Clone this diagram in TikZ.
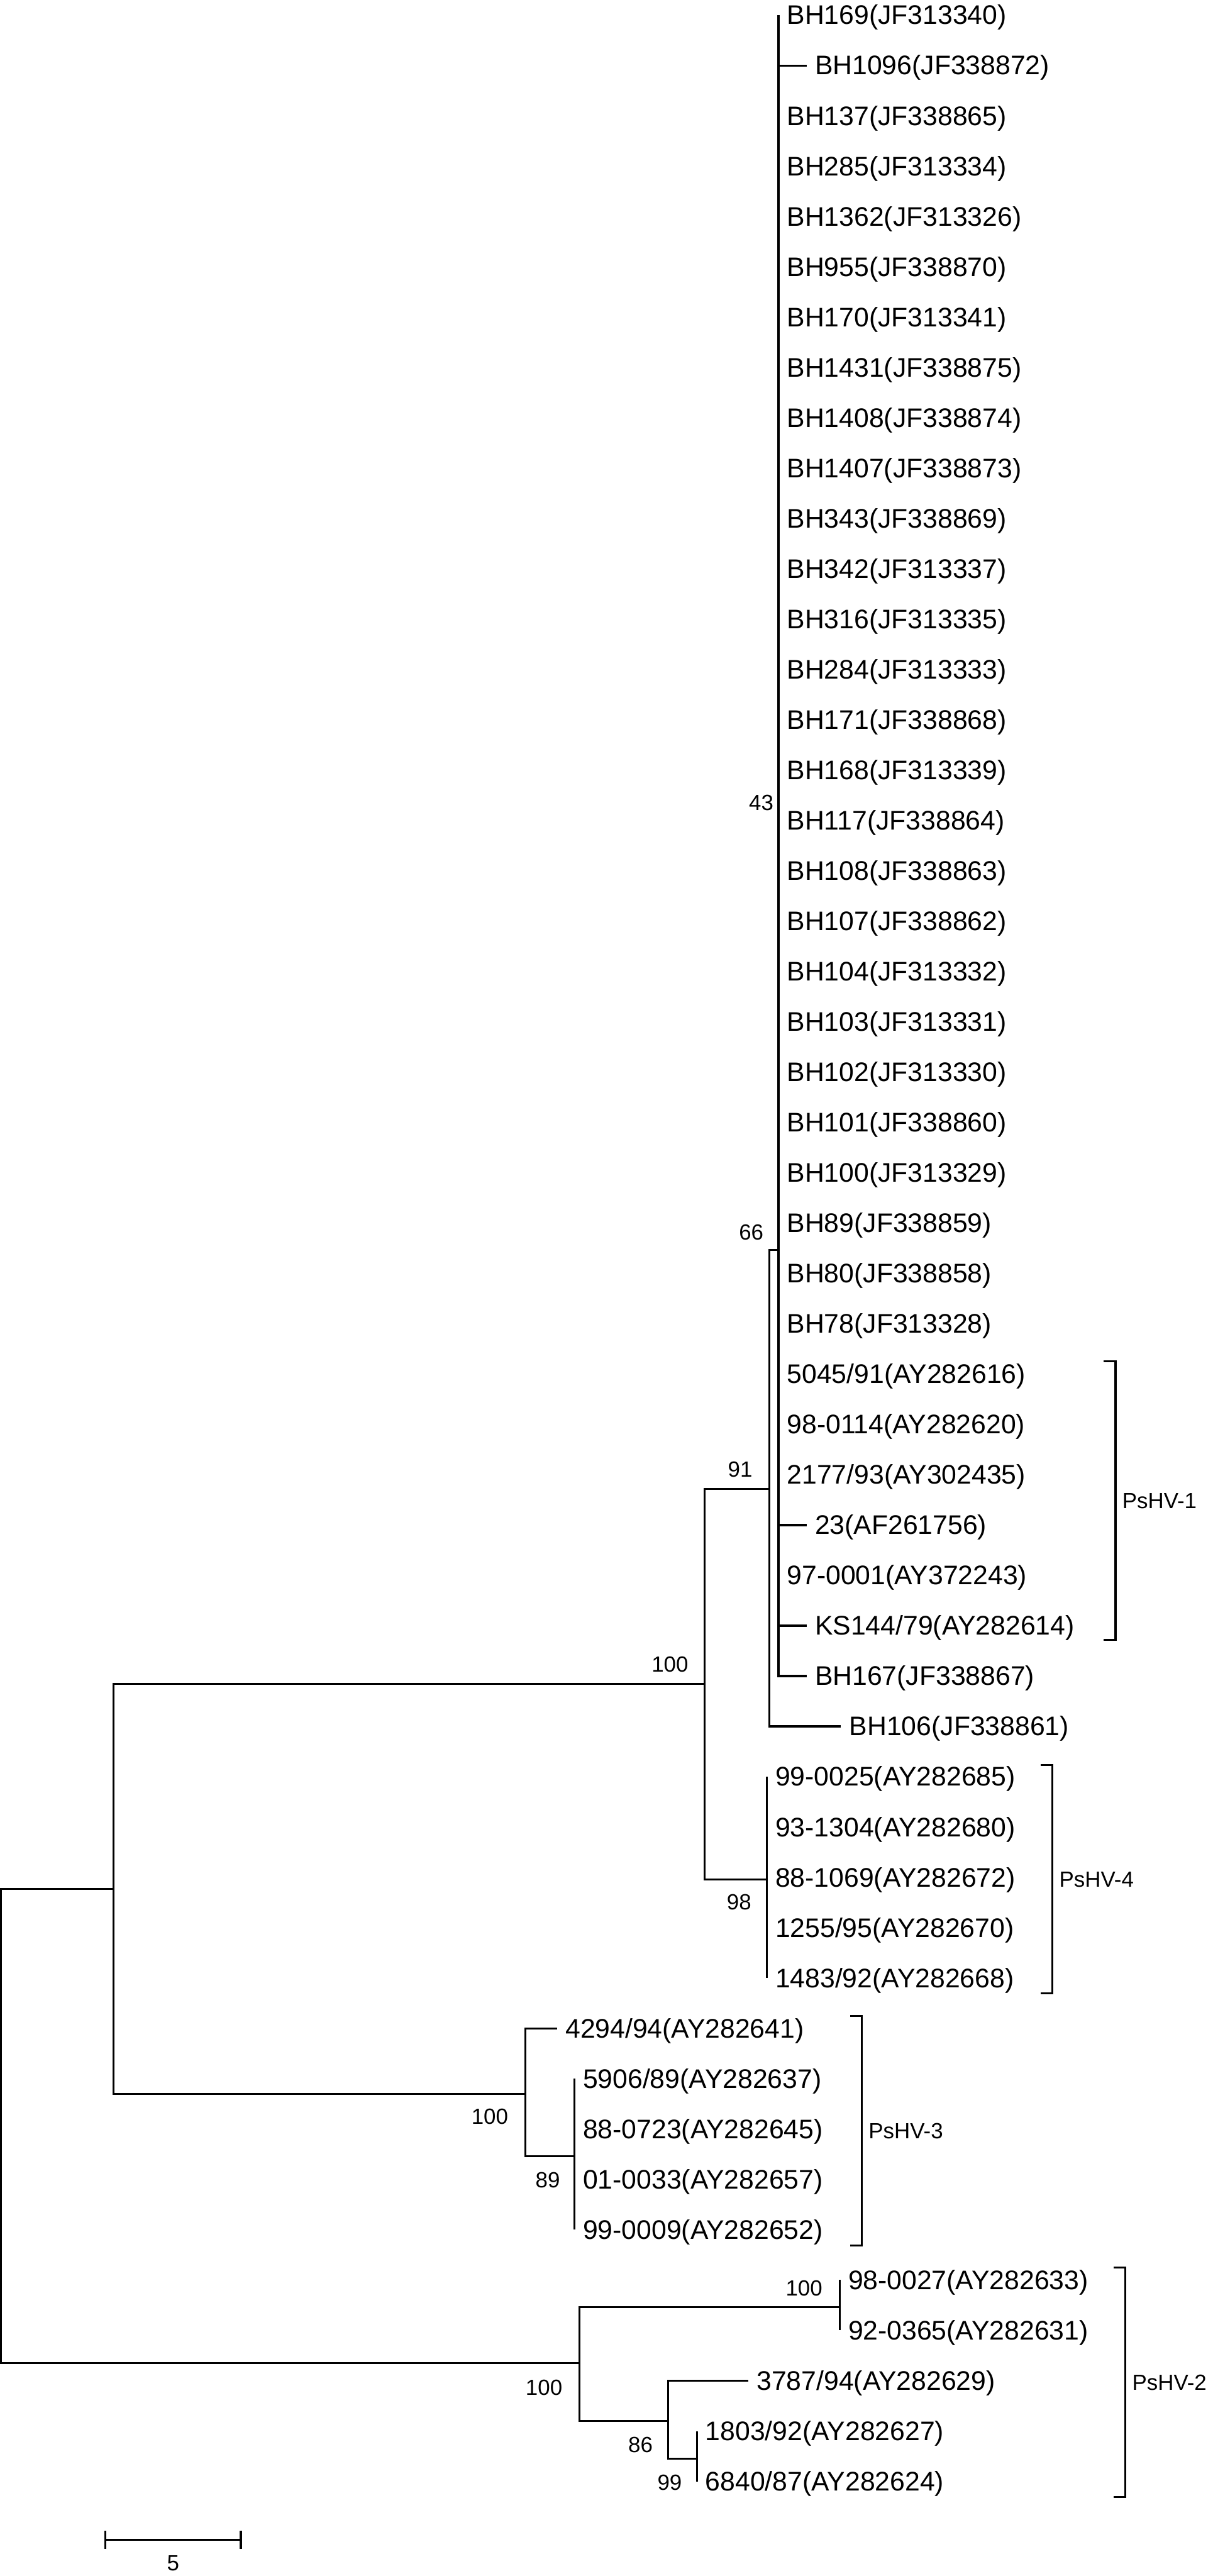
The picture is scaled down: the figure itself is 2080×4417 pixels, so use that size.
\documentclass[tikz,border=0pt]{standalone}
\usepackage{fontspec}
\setmainfont{Liberation Sans}
\usepackage{tikz}
\usetikzlibrary{positioning}

\newcommand{\leaffont}{\fontsize{13.1}{14}\selectfont}
\newcommand{\bootfont}{\fontsize{10.7}{12}\selectfont}

\tikzset{
  branch/.style={line width=1pt, line join=miter},
  bracket/.style={line width=0.95pt, line join=miter},
  leaf/.style={anchor=west, font=\leaffont, inner xsep=0.14cm, inner ysep=0pt,
    text height=0.32cm, text depth=0pt},
  boot/.style={font=\bootfont, inner sep=0pt, text height=0.265cm, text depth=0pt},
  clade/.style={anchor=west, font=\bootfont, inner sep=0pt, text height=0.265cm, text depth=0pt}
}

\begin{document}
\begin{tikzpicture}[x=0.01cm, y=-0.01cm]
  \useasboundingbox (0,0) rectangle (2080,4417);

  %% Internal nodes
  \coordinate (root) at (2,3645);
  \coordinate (nA)   at (195,3239);
  \coordinate (nB)   at (1208,2887);
  \coordinate (n91)  at (1319,2553);
  \coordinate (n66)  at (1335,2143);
  \coordinate (n43)  at (1335,1407);
  \coordinate (n98)  at (1315,3223);
  \coordinate (nF)   at (901,3590);
  \coordinate (n89)  at (985,3697);
  \coordinate (nG)   at (994,4052);
  \coordinate (nG1)  at (1440,3956);
  \coordinate (n86)  at (1146,4151);
  \coordinate (n99)  at (1195,4216);

  \draw[branch] (root) |- (nA);
  \draw[branch] (root) |- (nG);
  \draw[branch] (nA) |- (nB);
  \draw[branch] (nA) |- (nF);
  \draw[branch] (nB) |- (n91);
  \draw[branch] (nB) |- (n98);
  \draw[branch] (n91) |- (n66);
  \draw[branch] (nF) |- (n89);
  \draw[branch] (nG) |- (nG1);
  \draw[branch] (nG) |- (n86);
  \draw[branch] (n86) |- (n99);

  %% Leaves: row / parent / branch end / name
  \foreach \i/\pn/\xe/\txt in {
    0/n66/1335/{BH169(JF313340)},
    1/n66/1383/{BH1096(JF338872)},
    2/n66/1335/{BH137(JF338865)},
    3/n66/1335/{BH285(JF313334)},
    4/n66/1335/{BH1362(JF313326)},
    5/n66/1335/{BH955(JF338870)},
    6/n66/1335/{BH170(JF313341)},
    7/n66/1335/{BH1431(JF338875)},
    8/n66/1335/{BH1408(JF338874)},
    9/n66/1335/{BH1407(JF338873)},
    10/n66/1335/{BH343(JF338869)},
    11/n66/1335/{BH342(JF313337)},
    12/n66/1335/{BH316(JF313335)},
    13/n66/1335/{BH284(JF313333)},
    14/n66/1335/{BH171(JF338868)},
    15/n66/1335/{BH168(JF313339)},
    16/n66/1335/{BH117(JF338864)},
    17/n66/1335/{BH108(JF338863)},
    18/n66/1335/{BH107(JF338862)},
    19/n66/1335/{BH104(JF313332)},
    20/n66/1335/{BH103(JF313331)},
    21/n66/1335/{BH102(JF313330)},
    22/n66/1335/{BH101(JF338860)},
    23/n66/1335/{BH100(JF313329)},
    24/n66/1335/{BH89(JF338859)},
    25/n66/1335/{BH80(JF338858)},
    26/n66/1335/{BH78(JF313328)},
    27/n66/1335/{5045/91(AY282616)},
    28/n66/1335/{98-0114(AY282620)},
    29/n66/1335/{2177/93(AY302435)},
    30/n66/1383/{23(AF261756)},
    31/n66/1335/{97-0001(AY372243)},
    32/n66/1383/{KS144/79(AY282614)},
    33/n66/1383/{BH167(JF338867)},
    34/n91/1442/{BH106(JF338861)},
    35/n98/1315/{99-0025(AY282685)},
    36/n98/1315/{93-1304(AY282680)},
    37/n98/1315/{88-1069(AY282672)},
    38/n98/1315/{1255/95(AY282670)},
    39/n98/1315/{1483/92(AY282668)},
    40/nF/955/{4294/94(AY282641)},
    41/n89/985/{5906/89(AY282637)},
    42/n89/985/{88-0723(AY282645)},
    43/n89/985/{01-0033(AY282657)},
    44/n89/985/{99-0009(AY282652)},
    45/nG1/1440/{98-0027(AY282633)},
    46/nG1/1440/{92-0365(AY282631)},
    47/n86/1283/{3787/94(AY282629)},
    48/n99/1195/{1803/92(AY282627)},
    49/n99/1195/{6840/87(AY282624)}
  }{
    \node[leaf] (l\i) at (\xe,{26+86.3*\i}) {\txt};
    \draw[branch] (\pn) |- (l\i.west);
  }

  %% Bootstrap values
  \node[boot, above left=0.17cm and 0.08cm of n43] (b43) {43};
  \node[boot, above left=0.16cm and 0.25cm of n66] (b66) {66};
  \node[boot, above left=0.20cm and 0.28cm of n91] (b91) {91};
  \node[boot, above left=0.20cm and 0.27cm of nB] (bB) {100};
  \node[boot, below left=0.24cm and 0.26cm of n98] (b98) {98};
  \node[boot, below left=0.25cm and 0.29cm of nF] (bF) {100};
  \node[boot, below left=0.27cm and 0.24cm of n89] (b89) {89};
  \node[boot, above left=0.19cm and 0.29cm of nG1] (bG1) {100};
  \node[boot, below left=0.28cm and 0.29cm of nG] (bG) {100};
  \node[boot, below left=0.27cm and 0.26cm of n86] (b86) {86};
  \node[boot, below left=0.27cm and 0.25cm of n99] (b99) {99};

  %% Clade brackets
  \foreach \k/\bx/\yt/\yb/\txt in {
    1/1913/2334/2812/PsHV-1,
    4/1805/3026/3418/PsHV-4,
    3/1478/3457/3850/PsHV-3,
    2/1930/3888/4282/PsHV-2
  }{
    \draw[bracket] ({\bx-20},\yt) -| (\bx,\yb) -- ({\bx-20},\yb);
    \node[clade] (cl\k) at ({\bx+11},{(\yt+\yb)/2}) {\txt};
  }

  %% Scale bar
  \coordinate (sbL) at (181,4355);
  \coordinate (sbR) at (413,4355);
  \draw[branch] (sbL) -- (sbR);
  \draw[branch] ([yshift=0.16cm]sbL) -- ([yshift=-0.16cm]sbL);
  \draw[branch] ([yshift=0.16cm]sbR) -- ([yshift=-0.16cm]sbR);
  \node[boot] (sbtxt) at (297,4395) {5};

\end{tikzpicture}
\end{document}
